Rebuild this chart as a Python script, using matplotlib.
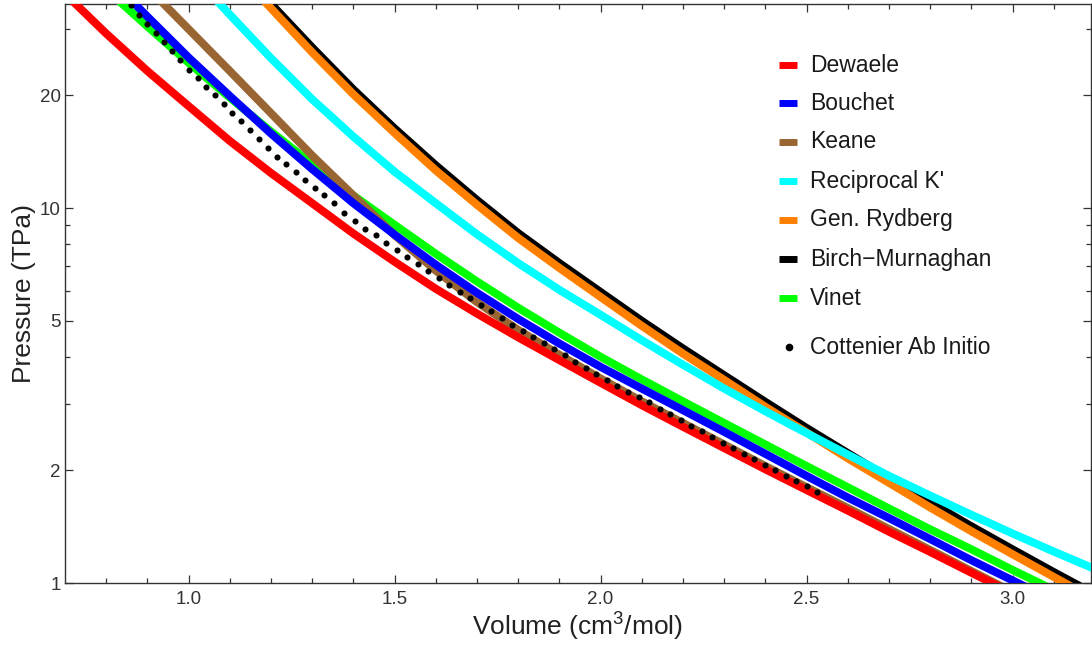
import matplotlib
matplotlib.use('Agg')
import matplotlib.pyplot as plt
from matplotlib.ticker import FixedLocator, NullFormatter
from matplotlib.lines import Line2D

plt.rcParams['font.family'] = ['Liberation Sans', 'DejaVu Sans']
plt.rcParams['mathtext.fontset'] = 'custom'
plt.rcParams['mathtext.rm'] = 'Liberation Sans'
plt.rcParams['mathtext.it'] = 'Liberation Sans:italic'

# --- equation-of-state curves: volume (cm^3/mol) vs pressure (TPa) ---
dewaele_v = [0.70, 0.80, 0.90, 1.00, 1.10, 1.20, 1.30, 1.40, 1.50, 1.60, 1.70, 1.80,
             1.90, 2.00, 2.10, 2.20, 2.30, 2.40, 2.50, 2.60, 2.70, 2.80, 2.90, 2.95, 3.00]
dewaele_p = [37.3, 29.2, 23.2, 18.7, 15.1, 12.4, 10.3, 8.55, 7.19, 6.09, 5.23, 4.52,
             3.93, 3.42, 2.98, 2.61, 2.29, 2.01, 1.77, 1.56, 1.37, 1.21, 1.065, 1.00, 0.94]

bouchet_v = [0.85, 0.90, 1.00, 1.10, 1.20, 1.30, 1.40, 1.50, 1.60, 1.70, 1.80, 1.90,
             2.00, 2.10, 2.20, 2.30, 2.40, 2.50, 2.60, 2.70, 2.80, 2.90, 3.00, 3.05]
bouchet_p = [36.8, 32.4, 25.2, 19.9, 15.8, 12.7, 10.3, 8.49, 7.06, 5.94, 5.06, 4.35,
             3.77, 3.30, 2.89, 2.53, 2.21, 1.93, 1.69, 1.49, 1.31, 1.15, 1.016, 0.955]

keane_v = [0.93, 1.00, 1.10, 1.20, 1.30, 1.40, 1.50, 1.60, 1.70, 1.80, 1.90, 2.00,
           2.10, 2.20, 2.30, 2.40, 2.50, 2.60, 2.70, 2.80, 2.90, 3.00]
keane_p = [35.9, 30.0, 23.2, 17.9, 13.8, 10.8, 8.47, 6.81, 5.61, 4.73, 4.06, 3.51,
           3.05, 2.67, 2.34, 2.05, 1.80, 1.585, 1.393, 1.225, 1.076, 0.946]

recip_v = [1.07, 1.10, 1.20, 1.30, 1.40, 1.50, 1.60, 1.70, 1.80, 1.90, 2.00, 2.10,
           2.20, 2.30, 2.40, 2.50, 2.60, 2.70, 2.80, 2.90, 3.00, 3.10, 3.20, 3.25]
recip_p = [35.6, 32.8, 25.1, 19.5, 15.5, 12.5, 10.3, 8.51, 7.13, 6.05, 5.19, 4.44,
           3.82, 3.30, 2.87, 2.51, 2.20, 1.93, 1.71, 1.52, 1.355, 1.213, 1.089, 1.033]

rydberg_v = [1.18, 1.30, 1.40, 1.50, 1.60, 1.70, 1.80, 1.90, 2.00, 2.10, 2.20, 2.30,
             2.40, 2.50, 2.60, 2.70, 2.80, 2.90, 3.00, 3.10, 3.15]
rydberg_p = [36.0, 26.0, 20.1, 15.85, 12.6, 10.2, 8.32, 6.92, 5.79, 4.85, 4.09, 3.48,
             2.95, 2.52, 2.15, 1.85, 1.59, 1.374, 1.193, 1.038, 0.968]

birch_v = [1.19, 1.30, 1.40, 1.50, 1.60, 1.70, 1.80, 1.90, 2.00, 2.10, 2.20, 2.30,
           2.40, 2.50, 2.60, 2.70, 2.80, 2.90, 3.00, 3.10, 3.20]
birch_p = [36.0, 26.8, 20.7, 16.3, 13.0, 10.5, 8.57, 7.13, 5.97, 5.00, 4.22, 3.58,
           3.04, 2.59, 2.22, 1.905, 1.64, 1.416, 1.229, 1.069, 0.933]

vinet_v = [0.80, 0.90, 1.00, 1.10, 1.20, 1.30, 1.40, 1.50, 1.60, 1.70, 1.80, 1.90,
           2.00, 2.10, 2.20, 2.30, 2.40, 2.50, 2.60, 2.70, 2.80, 2.90, 3.00, 3.065, 3.10]
vinet_p = [38.3, 30.5, 24.4, 19.7, 16.0, 13.1, 10.8, 9.02, 7.55, 6.37, 5.42, 4.65,
           4.01, 3.49, 3.05, 2.67, 2.34, 2.05, 1.80, 1.58, 1.39, 1.23, 1.083, 1.00, 0.957]

# ab initio points (Cottenier)
cott_v = [0.860, 0.880, 0.900, 0.920, 0.940, 0.960, 0.980, 1.001, 1.022, 1.043,
          1.064, 1.085, 1.106, 1.127, 1.149, 1.171, 1.193, 1.215, 1.237, 1.260,
          1.283, 1.306, 1.329, 1.352, 1.378, 1.403, 1.429, 1.454, 1.480, 1.505,
          1.531, 1.556, 1.582, 1.607, 1.633, 1.658, 1.684, 1.709, 1.735, 1.760,
          1.786, 1.811, 1.837, 1.862, 1.888, 1.913, 1.939, 1.964, 1.990, 2.015,
          2.041, 2.066, 2.092, 2.117, 2.143, 2.168, 2.194, 2.219, 2.245, 2.270,
          2.296, 2.321, 2.347, 2.372, 2.398, 2.423, 2.449, 2.474, 2.500, 2.525]
cott_p = [34.7, 32.8, 31.0, 29.3, 27.7, 26.2, 24.8, 23.4, 22.2, 21.0,
          20.0, 18.9, 17.9, 17.1, 16.1, 15.3, 14.5, 13.7, 13.1, 12.5,
          11.9, 11.3, 10.8, 10.3, 9.70, 9.23, 8.81, 8.45, 8.07, 7.73,
          7.40, 7.08, 6.78, 6.49, 6.22, 5.98, 5.74, 5.52, 5.30, 5.09,
          4.89, 4.70, 4.52, 4.36, 4.20, 4.05, 3.89, 3.75, 3.61, 3.48,
          3.36, 3.24, 3.13, 3.03, 2.92, 2.82, 2.72, 2.63, 2.54, 2.45,
          2.36, 2.29, 2.21, 2.14, 2.07, 2.00, 1.93, 1.87, 1.81, 1.75]

# (label, V, P, color, zorder)
curves = [
    ('Dewaele', dewaele_v, dewaele_p, '#ff0000', 9),
    ('Bouchet', bouchet_v, bouchet_p, '#0000ff', 8),
    ('Keane', keane_v, keane_p, '#996633', 7),
    ("Reciprocal K'", recip_v, recip_p, '#00ffff', 6),
    ('Gen. Rydberg', rydberg_v, rydberg_p, '#ff8000', 5),
    ('Birch\u2212Murnaghan', birch_v, birch_p, '#000000', 4),
    ('Vinet', vinet_v, vinet_p, '#00ff00', 3),
]

fig = plt.figure(figsize=(10.92, 6.47), dpi=100)
ax = fig.add_axes([0.0595, 0.0989, 0.9395, 0.8949])

for name, v, p, color, z in curves:
    ax.plot(v, p, color=color, lw=5.8, solid_capstyle='butt',
            solid_joinstyle='round', zorder=z)
ax.plot(cott_v, cott_p, 'o', color='black', ms=4.4, mew=0, zorder=12)

ax.set_yscale('log')
ax.set_xlim(0.7, 3.19)
ax.set_ylim(1, 35)

ax.xaxis.set_major_locator(FixedLocator([1.0, 1.5, 2.0, 2.5, 3.0]))
ax.xaxis.set_minor_locator(FixedLocator([0.8, 0.9, 1.1, 1.2, 1.3, 1.4, 1.6, 1.7, 1.8, 1.9,
                                         2.1, 2.2, 2.3, 2.4, 2.6, 2.7, 2.8, 2.9, 3.1]))
ax.set_xticklabels(['1.0', '1.5', '2.0', '2.5', '3.0'])
ax.yaxis.set_major_locator(FixedLocator([1, 2, 5, 10, 20]))
ax.yaxis.set_minor_locator(FixedLocator([3, 4, 6, 7, 8, 9, 30]))
ax.set_yticklabels(['1', '2', '5', '10', '20'])
ax.yaxis.set_minor_formatter(NullFormatter())

ax.tick_params(which='both', direction='in', top=True, right=True,
               labelsize=13.5, labelcolor='#333333', color='#333333', width=0.9)
ax.tick_params(which='major', length=6)
ax.tick_params(which='minor', length=3.5)
ax.tick_params(axis='x', which='major', pad=6)
ax.tick_params(axis='y', which='major', pad=3)
for s in ax.spines.values():
    s.set_color('#333333')
    s.set_linewidth(1.0)

ax.set_xlabel('Volume (cm$^3$/mol)', fontsize=19, color='#222222', labelpad=2)
ax.set_ylabel('Pressure (TPa)', fontsize=19, color='#222222', labelpad=3)

# hand-placed legend in axes fraction
row_y = [0.8946, 0.829, 0.7617, 0.6943, 0.627, 0.5596, 0.4922]
for (name, v, p, color, z), yy in zip(curves, row_y):
    ax.add_line(Line2D([0.696, 0.714], [yy, yy], transform=ax.transAxes,
                       color=color, lw=5.0, solid_capstyle='butt', zorder=20))
    ax.text(0.726, yy, name, transform=ax.transAxes, fontsize=16.5,
            va='center', ha='left', color='#1a1a1a', zorder=20)
ax.plot([0.7055], [0.4076], 'o', color='black', ms=5.5, mew=0,
        transform=ax.transAxes, zorder=20)
ax.text(0.726, 0.4076, 'Cottenier Ab Initio', transform=ax.transAxes, fontsize=16.5,
        va='center', ha='left', color='#1a1a1a', zorder=20)

fig.savefig('out.png', dpi=100)
